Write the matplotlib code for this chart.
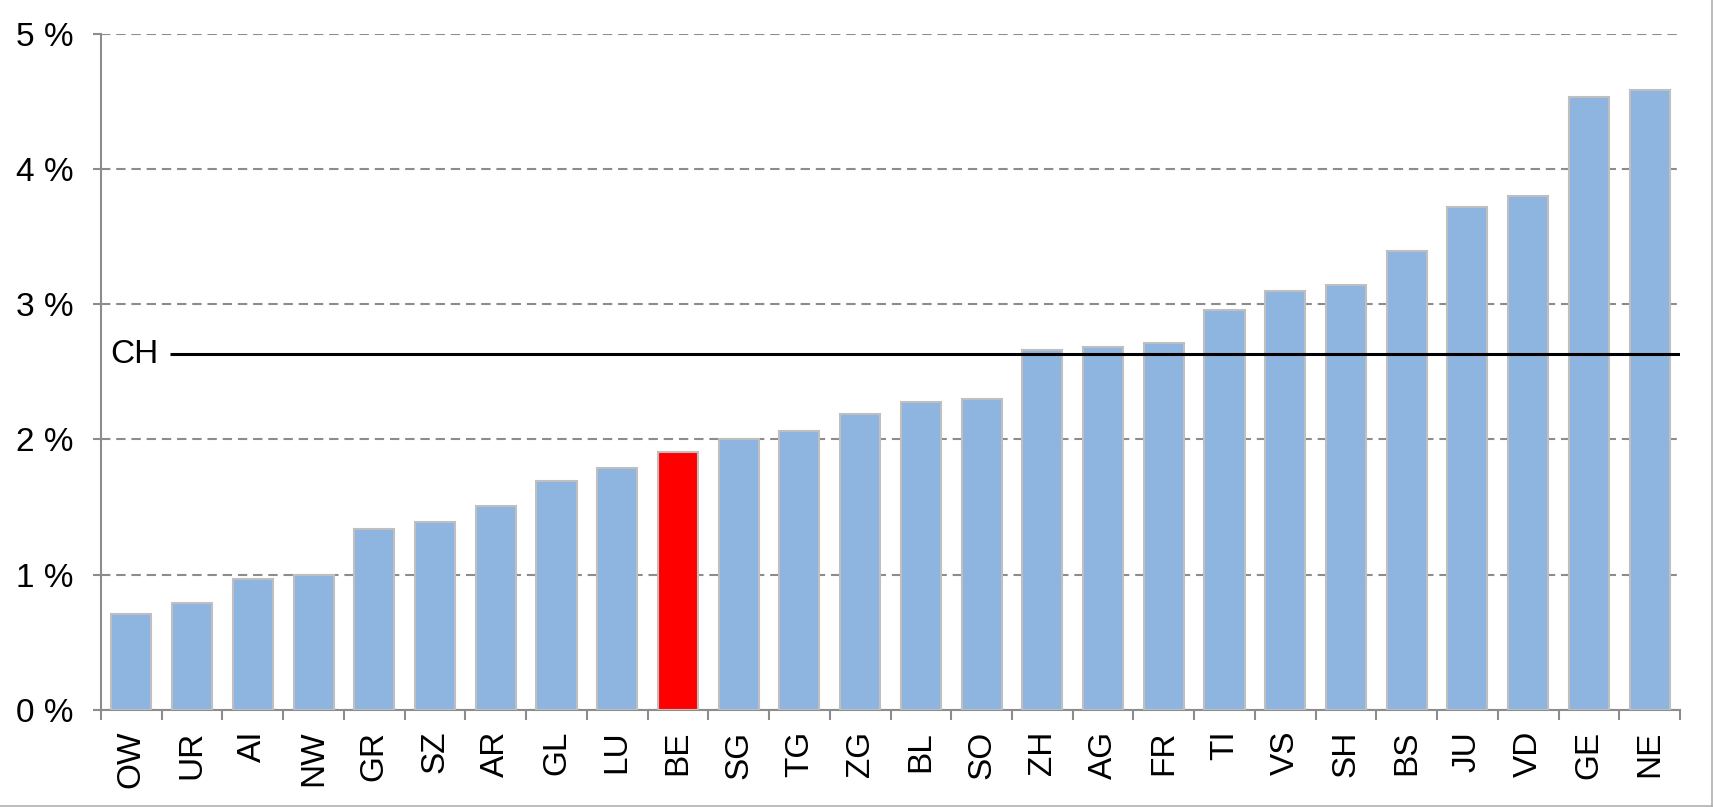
import matplotlib
matplotlib.use('Agg')
import matplotlib.pyplot as plt
from matplotlib.lines import Line2D
import numpy as np

plt.rcParams['font.family'] = ['Liberation Sans', 'DejaVu Sans']

cantons = ['OW', 'UR', 'AI', 'NW', 'GR', 'SZ', 'AR', 'GL', 'LU', 'BE', 'SG', 'TG', 'ZG',
           'BL', 'SO', 'ZH', 'AG', 'FR', 'TI', 'VS', 'SH', 'BS', 'JU', 'VD', 'GE', 'NE']
values = [0.71, 0.79, 0.97, 1.00, 1.34, 1.39, 1.51, 1.69, 1.79, 1.91, 2.00, 2.06, 2.19,
          2.28, 2.30, 2.66, 2.68, 2.71, 2.96, 3.10, 3.14, 3.39, 3.72, 3.80, 4.53, 4.58]
highlight = 'BE'
ch_value = 2.63
yticks = [0, 1, 2, 3, 4, 5]
ytick_labels = ['0 %', '1 %', '2 %', '3 %', '4 %', '5 %']

W, H = 1713, 807
fig = plt.figure(figsize=(W / 100, H / 100), dpi=100)
ax = fig.add_axes([101 / W, (H - 710) / H, (1680 - 101) / W, (710 - 33.5) / H])

x = np.arange(len(cantons))
colors = ['#ff0000' if c == highlight else '#8eb4e0' for c in cantons]
ax.bar(x, values, width=0.66, color=colors, edgecolor='#bfbfbf', linewidth=1.5, zorder=3)

ax.set_xlim(-0.5, len(cantons) - 0.5)
ax.set_ylim(0, 5)

# gridlines
ax.set_yticks(yticks)
ax.set_yticklabels(ytick_labels, fontsize=24)
ax.yaxis.grid(True, linestyle=(0, (4.5, 2.8)), color='#8c8c8c', linewidth=1.5, zorder=1)

# category boundaries get tick marks, labels sit at the centers
ax.set_xticks(np.arange(-0.5, len(cantons)), minor=False)
ax.set_xticklabels([])
ax.set_xticks(x, minor=True)
ax.set_xticklabels(cantons, minor=True, rotation=90, fontsize=24)
ax.tick_params(axis='x', which='major', length=7, width=1.5, color='#8c8c8c', direction='out')
ax.tick_params(axis='x', which='minor', length=0, pad=15)
ax.tick_params(axis='y', length=6, width=1.5, color='#8c8c8c', pad=14)

for side in ['top', 'right']:
    ax.spines[side].set_visible(False)
for side in ['left', 'bottom']:
    ax.spines[side].set_color('#8c8c8c')
    ax.spines[side].set_linewidth(1.5)

# Swiss average line
ax.plot([0.64, len(cantons) - 0.5], [ch_value, ch_value], color='black', linewidth=2.2, zorder=4,
        solid_capstyle='butt')
ax.text(0.45, ch_value, 'CH', fontsize=24, ha='right', va='center')

# light frame at the right and bottom edges
fig.add_artist(Line2D([0, 1], [0.6 / H, 0.6 / H], transform=fig.transFigure, color='#b0b0b0', linewidth=1.2))
fig.add_artist(Line2D([1 - 0.6 / W, 1 - 0.6 / W], [0, 1], transform=fig.transFigure, color='#b0b0b0', linewidth=1.2))

fig.savefig('out.png', dpi=100)
